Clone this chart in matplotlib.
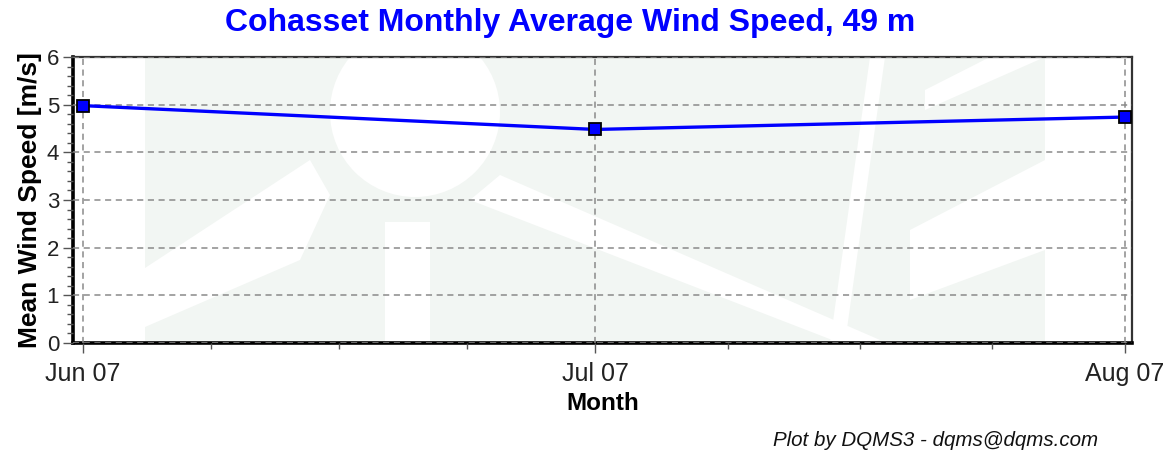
import numpy as np
import matplotlib
matplotlib.use('Agg')
import matplotlib.pyplot as plt
import matplotlib.dates as mdates
import matplotlib.patches as mpatches
from matplotlib.ticker import MultipleLocator, FixedLocator
import datetime as dt

months = [dt.datetime(2007, 6, 1), dt.datetime(2007, 7, 1), dt.datetime(2007, 8, 1)]
windSpeed = [4.98, 4.48, 4.74]
yTicks = [0, 1, 2, 3, 4, 5, 6]

title = 'Cohasset Monthly Average Wind Speed, 49 m'
yLabel = 'Mean Wind Speed [m/s]'
xLabel = 'Month'
credit = 'Plot by DQMS3 - dqms@dqms.com'

plt.rcParams['font.family'] = ['Liberation Sans', 'DejaVu Sans']

fig = plt.figure(figsize=(11.68, 4.61), dpi=100)
ax = fig.add_axes([73/1168, 1-343/461, (1132-73)/1168, (343-57)/461])

# faint watermark logo in the background (axes fraction coords)
def px(x, y):
	return ((x-73)/(1132-73), (343-y)/(343-57))

wm = '#f2f6f3'
ax.add_patch(mpatches.Rectangle(px(145, 343), (1045-145)/(1132-73), 1, transform=ax.transAxes, color=wm, zorder=0, lw=0))
ax.add_patch(mpatches.Ellipse(px(415, 112), 170/(1132-73), 170/(343-57), transform=ax.transAxes, color='white', zorder=0.1, lw=0))
ax.add_patch(mpatches.Polygon([px(385, 222), px(430, 222), px(430, 343), px(385, 343)], transform=ax.transAxes, color='white', zorder=0.1, lw=0))
ax.add_patch(mpatches.Polygon([px(145, 268), px(310, 160), px(330, 195), px(300, 260), px(145, 327)], transform=ax.transAxes, color='white', zorder=0.1, lw=0))
ax.add_patch(mpatches.Polygon([px(500, 175), px(880, 340), px(840, 343), px(470, 200)], transform=ax.transAxes, color='white', zorder=0.1, lw=0))
ax.add_patch(mpatches.Polygon([px(870, 57), px(885, 57), px(845, 343), px(830, 343)], transform=ax.transAxes, color='white', zorder=0.1, lw=0))
ax.add_patch(mpatches.Polygon([px(925, 90), px(990, 57), px(1045, 57), px(925, 110)], transform=ax.transAxes, color='white', zorder=0.1, lw=0))
ax.add_patch(mpatches.Polygon([px(910, 230), px(1045, 160), px(1045, 250), px(910, 300)], transform=ax.transAxes, color='white', zorder=0.1, lw=0))

ax.plot(months, windSpeed, '-s', color='#0000ff', lw=2.4, markersize=8,
		markerfacecolor='#0000ff', markeredgecolor='black', markeredgewidth=1.3, zorder=5, clip_on=False)

ax.set_ylim(0, 6)
ax.set_yticks(yTicks)
ax.yaxis.set_minor_locator(MultipleLocator(0.2))
ax.set_xlim(months[0] - dt.timedelta(days=0.58), months[-1] + dt.timedelta(days=0.42))
ax.set_xticks(months)
ax.xaxis.set_major_formatter(mdates.DateFormatter('%b %y'))

# quarter-month minor ticks
minor = []
for i in range(len(months)-1):
	span = months[i+1] - months[i]
	for k in range(1, 4):
		minor.append(mdates.date2num(months[i] + span*k/4))
ax.xaxis.set_minor_locator(FixedLocator(minor))

ax.grid(True, which='major', color='#8a8a8a', linestyle=(0, (4, 3)), lw=1.1)
ax.set_axisbelow(False)
for gl in ax.get_xgridlines() + ax.get_ygridlines():
	gl.set_zorder(1)

for side in ['left', 'bottom']:
	ax.spines[side].set_linewidth(2.6)
	ax.spines[side].set_color('black')
for side in ['top', 'right']:
	ax.spines[side].set_linewidth(1.6)
	ax.spines[side].set_color('#333333')

ax.tick_params(axis='both', which='major', colors='#555555', labelcolor='#222222', length=7, width=1)
ax.tick_params(axis='both', which='minor', colors='#555555', length=4, width=1)
ax.tick_params(axis='y', labelsize=16, pad=3)
ax.tick_params(axis='x', labelsize=18, pad=7)

ax.set_ylabel(yLabel, fontsize=19, fontweight='bold', labelpad=3)
ax.set_xlabel(xLabel, fontsize=17.5, fontweight='bold', labelpad=4)
fig.text(0.488, 0.95, title, ha='center', va='center', fontsize=23, fontweight='bold', color='#0000ff')
fig.text(0.94, 0.045, credit, ha='right', va='center', fontsize=14.8, style='italic', color='#111111')

fig.savefig('out.png', dpi=100)
